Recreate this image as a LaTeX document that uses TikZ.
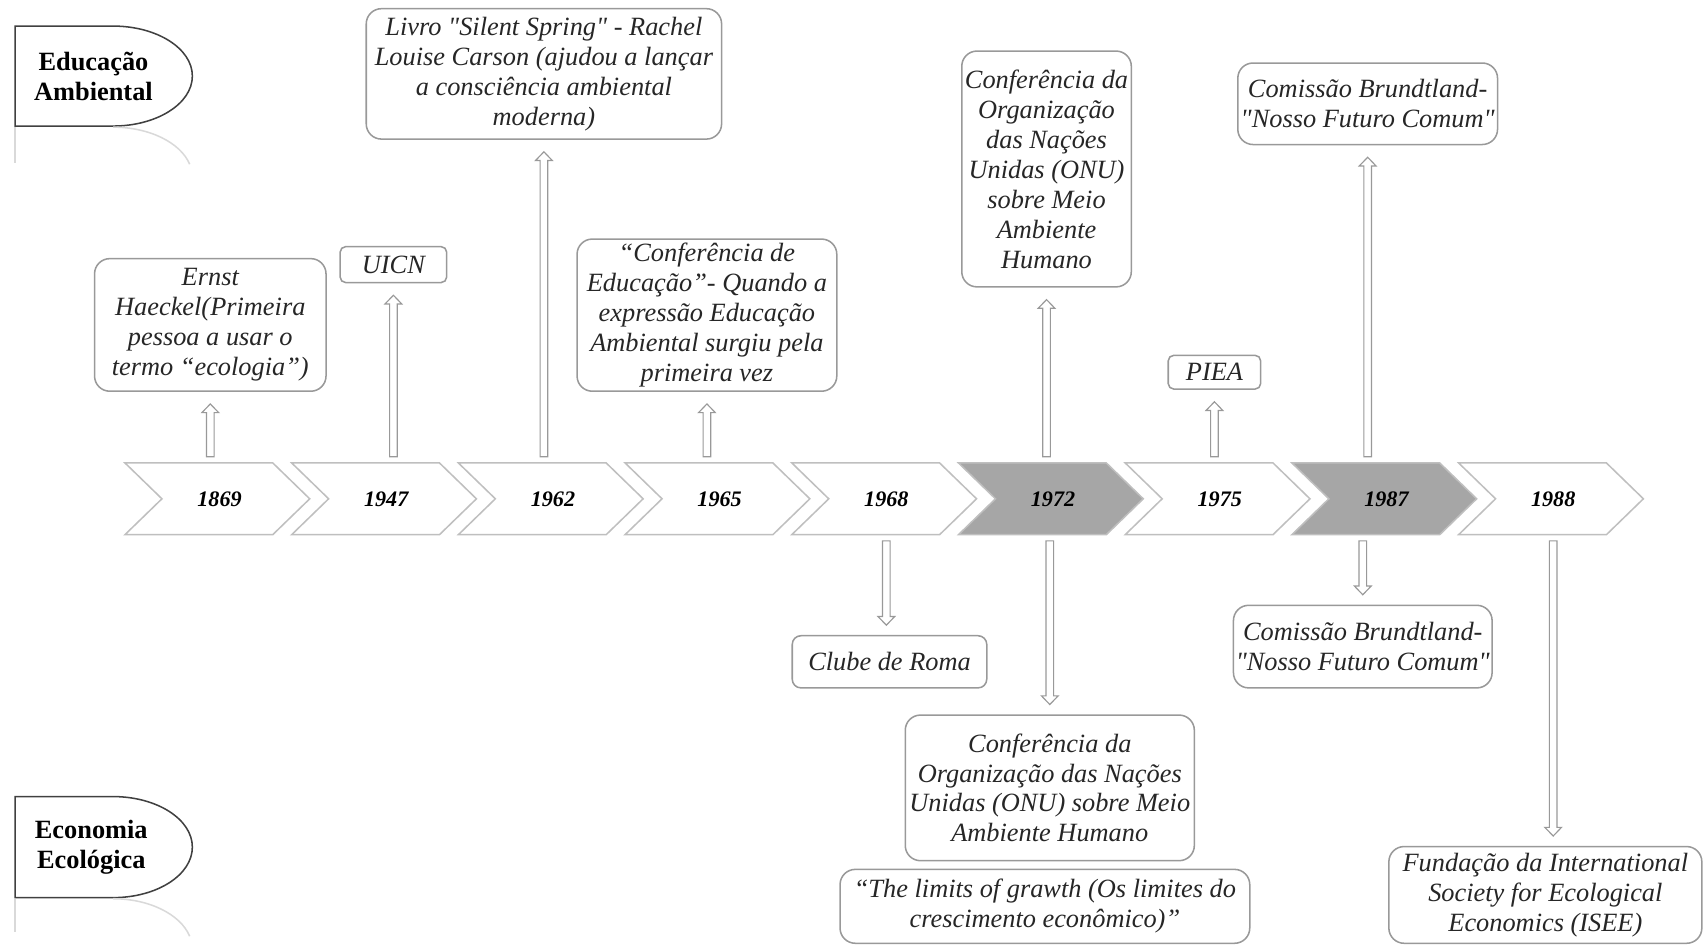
\documentclass[tikz,border=0pt]{standalone}
\usepackage{fontspec}
\setmainfont{Liberation Serif}[Ligatures=TeXOff]
\usetikzlibrary{calc,positioning}

\tikzset{
  evento/.style={draw=black!40, line width=0.4pt, fill=white, rounded corners=0.14cm,
    align=center, inner sep=0pt, text=black!85,
    font=\fontsize{6.9}{7.85}\selectfont\itshape},
  ano/.style={minimum width=1cm, minimum height=0.76cm, inner sep=0pt,
    font=\fontsize{5.8}{7}\selectfont\bfseries\itshape},
  chevron/.style={draw=black!25, line width=0.4pt},
  rotulo/.style={align=center, inner sep=0pt, font=\fontsize{6.9}{7.7}\selectfont\bfseries},
  forma/.style={draw=black!75, line width=0.4pt},
  reflexo/.style={draw=black!15, line width=0.4pt},
  seta/.style={draw=black!40, line width=0.3pt, fill=white},
  setacima/.style={seta, to path={let \p1=(\tikztostart), \p2=(\tikztotarget) in
    (\x1-0.035cm,\y1) -- (\x1-0.035cm,\y2-0.19cm) -- (\x1-0.077cm,\y2-0.19cm)
    -- (\x1,\y2-0.11cm) -- (\x1+0.077cm,\y2-0.19cm) -- (\x1+0.035cm,\y2-0.19cm)
    -- (\x1+0.035cm,\y1) -- cycle}},
  setabaixo/.style={seta, to path={let \p1=(\tikztostart), \p2=(\tikztotarget) in
    (\x1-0.035cm,\y1) -- (\x1-0.035cm,\y2+0.17cm) -- (\x1-0.077cm,\y2+0.17cm)
    -- (\x1,\y2+0.09cm) -- (\x1+0.077cm,\y2+0.17cm) -- (\x1+0.035cm,\y2+0.17cm)
    -- (\x1+0.035cm,\y1) -- cycle}}
}

\begin{document}
\begin{tikzpicture}
  \useasboundingbox (0,0) rectangle (15.68,-8.70);

  % linha do tempo
  \foreach \ano/\cor [count=\i from 0] in {1869/white,1947/white,1962/white,1965/white,1968/white,1972/black!35,1975/white,1987/black!35,1988/white}{
    \draw[chevron, fill=\cor] ({1.15+1.534*\i},-4.26) -- ++(1.36,0) -- ++(0.34,-0.33)
      -- ++(-0.34,-0.33) -- ++(-1.36,0) -- ++(0.34,0.33) -- cycle;
    \node[ano] (a\ano) at ({2.02+1.534*\i},-4.59) {\ano};
  }

  % rotulos
  \node[rotulo] (ea) at (0.86,-0.705) {Educação\\Ambiental};
  \draw[forma] (0.14,-0.24) -- (1.04,-0.24) arc[start angle=90, end angle=-90, x radius=0.73, y radius=0.46] -- (0.14,-1.16) -- cycle;
  \draw[reflexo] (0.14,-1.17) -- (0.14,-1.50);
  \draw[reflexo] (1.04,-1.17) arc[start angle=90, end angle=15, x radius=0.73, y radius=0.46];

  \node[rotulo] (ee) at (0.84,-7.795) {Economia\\Ecológica};
  \draw[forma] (0.14,-7.33) -- (1.04,-7.33) arc[start angle=90, end angle=-90, x radius=0.73, y radius=0.465] -- (0.14,-8.26) -- cycle;
  \draw[reflexo] (0.14,-8.27) -- (0.14,-8.58);
  \draw[reflexo] (1.04,-8.27) arc[start angle=90, end angle=15, x radius=0.73, y radius=0.465];

  % Educacao Ambiental (acima)
  \node[evento, minimum width=2.13cm, minimum height=1.22cm] (ernst) at (1.935,-2.99) {Ernst\\Haeckel(Primeira\\pessoa a usar o\\termo “ecologia”)};
  \node[evento, rounded corners=0.05cm, minimum width=0.98cm, minimum height=0.33cm] (uicn) at (3.62,-2.435) {UICN};
  \node[evento, minimum width=3.27cm, minimum height=1.20cm] (livro) at (5.005,-0.68) {Livro "Silent Spring" - Rachel\\Louise Carson (ajudou a lançar\\a consciência ambiental\\moderna)};
  \node[evento, minimum width=2.39cm, minimum height=1.40cm] (confed) at (6.505,-2.90) {“Conferência de\\Educação”- Quando a\\expressão Educação\\Ambiental surgiu pela\\primeira vez};
  \node[evento, minimum width=1.56cm, minimum height=2.17cm] (onu) at (9.63,-1.555) {Conferência da\\Organização\\das Nações\\Unidas (ONU)\\sobre Meio\\Ambiente\\Humano};
  \node[evento, rounded corners=0.05cm, minimum width=0.85cm, minimum height=0.31cm] (piea) at (11.175,-3.425) {PIEA};
  \node[evento, minimum width=2.39cm, minimum height=0.75cm] (brund) at (12.585,-0.955) {Comissão Brundtland-\\"Nosso Futuro Comum"};

  % Economia Ecologica (abaixo)
  \node[evento, rounded corners=0.08cm, minimum width=1.79cm, minimum height=0.48cm] (clube) at (8.185,-6.09) {Clube de Roma};
  \node[evento, minimum width=2.66cm, minimum height=1.34cm] (onub) at (9.66,-7.25) {Conferência da\\Organização das Nações\\Unidas (ONU) sobre Meio\\Ambiente Humano};
  \node[evento, minimum width=3.77cm, minimum height=0.68cm] (limites) at (9.615,-8.34) {“The limits of grawth (Os limites do\\crescimento econômico)”};
  \node[evento, minimum width=2.38cm, minimum height=0.76cm] (brundb) at (12.54,-5.95) {Comissão Brundtland-\\"Nosso Futuro Comum"};
  \node[evento, minimum width=2.88cm, minimum height=0.89cm] (fund) at (14.22,-8.235) {Fundação da International\\Society for Ecological\\Economics (ISEE)};

  % setas
  \draw[setacima] (ernst.south |- a1869.north) to (ernst.south);
  \draw[setacima] (uicn.south |- a1947.north) to (uicn.south);
  \draw[setacima] (livro.south |- a1962.north) to (livro.south);
  \draw[setacima] (confed.south |- a1965.north) to (confed.south);
  \draw[setacima] (onu.south |- a1972.north) to (onu.south);
  \draw[setacima] (piea.south |- a1975.north) to (piea.south);
  \draw[setacima] (brund.south |- a1987.north) to (brund.south);
  \draw[setabaixo] (a1968.south) to (clube.north);
  \draw[setabaixo] (onub.north |- a1972.south) to (onub.north);
  \draw[setabaixo] (brundb.north |- a1987.south) to (brundb.north);
  \draw[setabaixo] (a1988.south) to (fund.north);
\end{tikzpicture}
\end{document}
